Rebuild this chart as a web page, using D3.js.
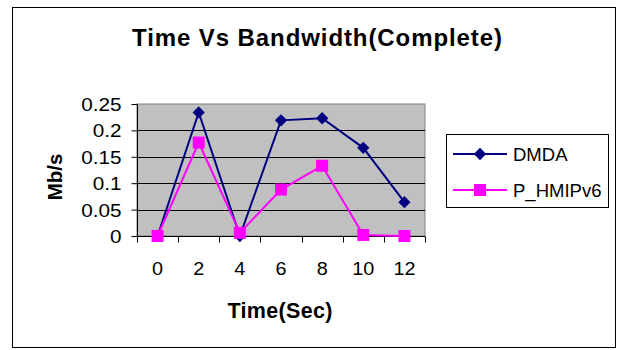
<!DOCTYPE html>
<html>
<head>
<meta charset="utf-8">
<script src="https://cdn.jsdelivr.net/npm/d3@7"></script>
<style>
  html, body { margin: 0; padding: 0; background: #fff; }
  svg { display: block; font-family: "Liberation Sans", Arial, sans-serif; }
</style>
</head>
<body>
<svg id="chart" width="621" height="350"></svg>
<script>
// Time samples (seconds) and measured bandwidth per scheme (Mb/s)
const times = ["0", "2", "4", "6", "8", "10", "12"];
const dmda = [0, 0.234, 0, 0.219, 0.223, 0.167, 0.064];
const pHmipv6 = [0, 0.177, 0.006, 0.088, 0.133, 0.002, 0];
const yTicks = [0, 0.05, 0.1, 0.15, 0.2, 0.25];
const seriesNames = ["DMDA", "P_HMIPv6"];

const svg = d3.select("#chart");

// outer chart frame
svg.append("rect")
  .attr("x", 12.5).attr("y", 7.5).attr("width", 603).attr("height", 340)
  .attr("fill", "#fff").attr("stroke", "#000").attr("stroke-width", 1);

const plot = { left: 137, top: 104, right: 425, bottom: 236 };

const x = d3.scaleBand().domain(times).range([plot.left, plot.right]).padding(0);
const y = d3.scaleLinear().domain([0, 0.25]).range([plot.bottom, plot.top]);

// plot background
svg.append("rect")
  .attr("x", plot.left).attr("y", plot.top)
  .attr("width", plot.right - plot.left).attr("height", plot.bottom - plot.top)
  .attr("fill", "#c0c0c0").attr("stroke", "#808080").attr("stroke-width", 1);

// horizontal gridlines
svg.append("g").selectAll("line")
  .data(yTicks.filter(d => d > 0 && d < 0.25))
  .join("line")
  .attr("x1", plot.left).attr("x2", plot.right)
  .attr("y1", d => Math.round(y(d)) + 0.5).attr("y2", d => Math.round(y(d)) + 0.5)
  .attr("stroke", "#000").attr("stroke-width", 1);

// y axis
const yAxis = svg.append("g")
  .attr("transform", `translate(${plot.left + 0.5},0)`)
  .call(d3.axisLeft(y).tickValues(yTicks).tickSize(6).tickPadding(0)
    .tickFormat(d => d3.format("")(+d.toFixed(2))));
yAxis.selectAll("text")
  .attr("font-size", 18.5).attr("fill", "#000")
  .attr("font-family", "Liberation Sans, Arial, sans-serif")
  .attr("x", 0).attr("dy", "0.35em")
  .attr("transform", "translate(-16,0) scale(1.12,1)");
yAxis.selectAll("line, path").attr("stroke", "#000");
yAxis.select(".domain").attr("d", `M0,${plot.top}V${plot.bottom + 0.5}`);

// x axis: ticks at category boundaries, labels centred on categories
const xAxisG = svg.append("g").attr("transform", `translate(0,${plot.bottom + 0.5})`);
xAxisG.append("line")
  .attr("x1", plot.left).attr("x2", plot.right)
  .attr("stroke", "#000");
const bounds = times.map(t => x(t)).concat([x(times[times.length - 1]) + x.bandwidth()]);
xAxisG.selectAll(".tk").data(bounds).join("line").attr("class", "tk")
  .attr("x1", d => Math.round(d) + 0.5).attr("x2", d => Math.round(d) + 0.5)
  .attr("y1", 0).attr("y2", 6).attr("stroke", "#000");
xAxisG.selectAll("text").data(times).join("text")
  .attr("transform", d => `translate(${x(d) + x.bandwidth() / 2},${275 - plot.bottom - 0.5}) scale(1.1,1)`)
  .attr("text-anchor", "middle")
  .attr("font-size", 18)
  .text(d => d);

// series lines and markers
const cx = (d, i) => x(times[i]) + x.bandwidth() / 2;
const line = d3.line().x(cx).y(d => y(d));

svg.append("path").datum(dmda)
  .attr("d", line).attr("fill", "none").attr("stroke", "#000080").attr("stroke-width", 2);
svg.append("path").datum(pHmipv6)
  .attr("d", line).attr("fill", "none").attr("stroke", "#ff00ff").attr("stroke-width", 2);

const diamond = d3.symbol().type(d3.symbolDiamond2).size(96);
svg.append("g").selectAll("path").data(dmda).join("path")
  .attr("transform", (d, i) => `translate(${cx(d, i)},${y(d)})`)
  .attr("d", diamond).attr("fill", "#000080");

svg.append("g").selectAll("rect").data(pHmipv6).join("rect")
  .attr("x", (d, i) => cx(d, i) - 6).attr("y", d => y(d) - 6)
  .attr("width", 12).attr("height", 12).attr("fill", "#ff00ff");

// title and axis titles
svg.append("text")
  .attr("x", 317).attr("y", 46)
  .attr("text-anchor", "middle")
  .attr("font-size", 24).attr("font-weight", "bold")
  .attr("textLength", 370).attr("lengthAdjust", "spacing")
  .text("Time Vs Bandwidth(Complete)");

svg.append("text")
  .attr("x", 280).attr("y", 318)
  .attr("text-anchor", "middle")
  .attr("font-size", 21.5).attr("font-weight", "bold")
  .attr("textLength", 105).attr("lengthAdjust", "spacing")
  .text("Time(Sec)");

svg.append("text")
  .attr("transform", "translate(62,177) rotate(-90)")
  .attr("text-anchor", "middle")
  .attr("font-size", 20.5).attr("font-weight", "bold")
  .text("Mb/s");

// legend
const legend = svg.append("g");
legend.append("rect")
  .attr("x", 446.5).attr("y", 134.5).attr("width", 162).attr("height", 73)
  .attr("fill", "#fff").attr("stroke", "#000");
const legendY = [154, 190];
const colors = ["#000080", "#ff00ff"];
seriesNames.forEach((name, i) => {
  legend.append("line")
    .attr("x1", 453).attr("x2", 507).attr("y1", legendY[i]).attr("y2", legendY[i])
    .attr("stroke", colors[i]).attr("stroke-width", 2);
  if (i === 0) {
    legend.append("path")
      .attr("transform", `translate(480,${legendY[i]})`)
      .attr("d", diamond).attr("fill", colors[i]);
  } else {
    legend.append("rect")
      .attr("x", 474).attr("y", legendY[i] - 6).attr("width", 12).attr("height", 12)
      .attr("fill", colors[i]);
  }
  legend.append("text")
    .attr("x", 513).attr("y", legendY[i] + 7)
    .attr("font-size", 18.5)
    .text(name);
});
</script>
</body>
</html>
